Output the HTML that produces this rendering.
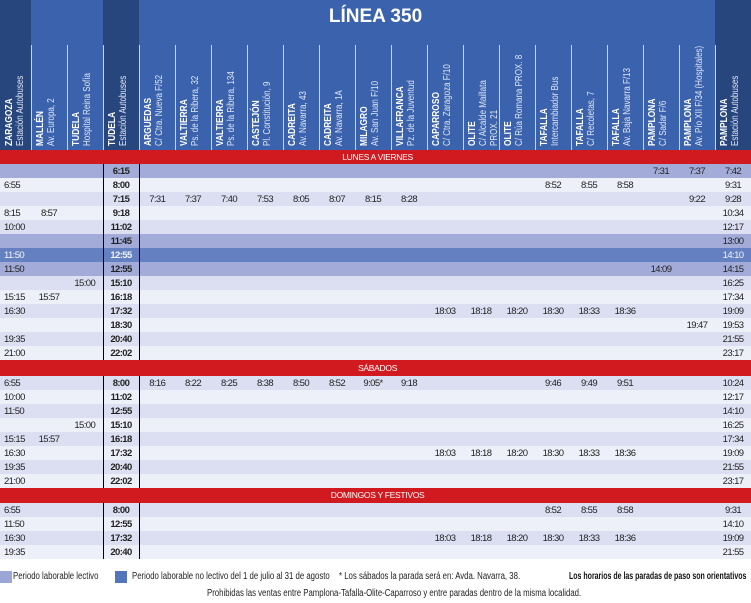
<!DOCTYPE html>
<html><head><meta charset="utf-8"><style>
*{margin:0;padding:0;box-sizing:border-box}
body{width:751px;height:603px;background:#fff;position:relative;overflow:hidden;font-family:"Liberation Sans",sans-serif}
#hdr{position:absolute;left:0;top:0;width:751px;height:150px;background:#3a62ad}
.dk{position:absolute;top:0;height:150px;background:#27467e}
.sep{position:absolute;top:45px;height:105px;width:1px;background:#c9d3ea}
.t{position:absolute;top:6px;left:0;width:751px;text-align:center;color:#fff;font-weight:bold;font-size:19px}
.lab{position:absolute;top:146px;height:106px;width:36px;writing-mode:vertical-rl;transform-origin:center top;transform:rotate(180deg) scaleY(.8);color:#dfe5f3;font-size:10px;line-height:11px;padding-right:3px;white-space:nowrap}
.lab b{color:#fff;font-size:10.5px}
table{position:absolute;left:0;top:150px;border-collapse:collapse;table-layout:fixed;width:751px;font-size:9.5px;letter-spacing:-.6px;color:#222}
td{height:14px;text-align:center;padding:0;white-space:nowrap;line-height:13px}
td:first-child{text-align:left;padding-left:4px}
tr.r td{background:#d01a1f;color:#fff;font-size:8.5px;letter-spacing:-.3px;text-align:center}
tr.m td{background:#a3acd9}
tr.l td{background:#eef0f9}
tr.d td{background:#dcdff1}
tr.k td{background:#6580c0;color:#f2f4fb}
tr:not(.r) td:nth-child(4){border-left:1px solid #000;border-right:1px solid #000;font-weight:bold}
.leg{position:absolute;font-size:10px;color:#222;white-space:nowrap;transform-origin:left top;transform:scaleX(.78)}
.sw{position:absolute;top:571px;width:12px;height:12px}
</style></head><body>
<div id="hdr">
<div class="dk" style="left:0;width:31px"></div>
<div class="dk" style="left:103px;width:36px"></div>
<div class="dk" style="left:715px;width:36px"></div>
<div class="t">LÍNEA 350</div>
<div class="sep" style="left:31px"></div><div class="sep" style="left:67px"></div><div class="sep" style="left:103px"></div><div class="sep" style="left:139px"></div><div class="sep" style="left:175px"></div><div class="sep" style="left:211px"></div><div class="sep" style="left:247px"></div><div class="sep" style="left:283px"></div><div class="sep" style="left:319px"></div><div class="sep" style="left:355px"></div><div class="sep" style="left:391px"></div><div class="sep" style="left:427px"></div><div class="sep" style="left:463px"></div><div class="sep" style="left:499px"></div><div class="sep" style="left:535px"></div><div class="sep" style="left:571px"></div><div class="sep" style="left:607px"></div><div class="sep" style="left:643px"></div><div class="sep" style="left:679px"></div><div class="sep" style="left:715px"></div>
<div class="lab" style="left:0;width:31px"><b>ZARAGOZA</b><br>Estación Autobuses</div>
<div class="lab" style="left:31px"><b>MALLÉN</b><br>Av. Europa, 2</div>
<div class="lab" style="left:67px"><b>TUDELA</b><br>Hospital Reina Sofía</div>
<div class="lab" style="left:103px"><b>TUDELA</b><br>Estación Autobuses</div>
<div class="lab" style="left:139px"><b>ARGUEDAS</b><br>C/ Ctra. Nueva F/52</div>
<div class="lab" style="left:175px"><b>VALTIERRA</b><br>Ps. de la Ribera, 32</div>
<div class="lab" style="left:211px"><b>VALTIERRA</b><br>Ps. de la Ribera, 134</div>
<div class="lab" style="left:247px"><b>CASTEJÓN</b><br>Pl. Constitución, 9</div>
<div class="lab" style="left:283px"><b>CADREITA</b><br>Av. Navarra, 43</div>
<div class="lab" style="left:319px"><b>CADREITA</b><br>Av. Navarra, 1A</div>
<div class="lab" style="left:355px"><b>MILAGRO</b><br>Av. San Juan F/10</div>
<div class="lab" style="left:391px"><b>VILLAFRANCA</b><br>Pz. de la Juventud</div>
<div class="lab" style="left:427px"><b>CAPARROSO</b><br>C/ Ctra. Zaragoza F/10</div>
<div class="lab" style="left:463px"><b>OLITE</b><br>C/ Alcalde Maillata<br>PROX. 21</div>
<div class="lab" style="left:499px"><b>OLITE</b><br>C/ Rúa Romana PROX. 8</div>
<div class="lab" style="left:535px"><b>TAFALLA</b><br>Intercambiador Bus</div>
<div class="lab" style="left:571px"><b>TAFALLA</b><br>C/ Recoletas, 7</div>
<div class="lab" style="left:607px"><b>TAFALLA</b><br>Av. Baja Navarra F/13</div>
<div class="lab" style="left:643px"><b>PAMPLONA</b><br>C/ Sadar F/6</div>
<div class="lab" style="left:679px"><b>PAMPLONA</b><br>Av. Pío XII F/34 (Hospitales)</div>
<div class="lab" style="left:715px"><b>PAMPLONA</b><br>Estación Autobuses</div>
</div>
<table>
<colgroup><col style="width:31px"><col span="19" style="width:36px"><col style="width:36px"></colgroup>
<tr class="r"><td colspan="21">LUNES A VIERNES</td></tr>
<tr class="m"><td></td><td></td><td></td><td>6:15</td><td></td><td></td><td></td><td></td><td></td><td></td><td></td><td></td><td></td><td></td><td></td><td></td><td></td><td></td><td>7:31</td><td>7:37</td><td>7:42</td></tr>
<tr class="l"><td>6:55</td><td></td><td></td><td>8:00</td><td></td><td></td><td></td><td></td><td></td><td></td><td></td><td></td><td></td><td></td><td></td><td>8:52</td><td>8:55</td><td>8:58</td><td></td><td></td><td>9:31</td></tr>
<tr class="d"><td></td><td></td><td></td><td>7:15</td><td>7:31</td><td>7:37</td><td>7:40</td><td>7:53</td><td>8:05</td><td>8:07</td><td>8:15</td><td>8:28</td><td></td><td></td><td></td><td></td><td></td><td></td><td></td><td>9:22</td><td>9:28</td></tr>
<tr class="l"><td>8:15</td><td>8:57</td><td></td><td>9:18</td><td></td><td></td><td></td><td></td><td></td><td></td><td></td><td></td><td></td><td></td><td></td><td></td><td></td><td></td><td></td><td></td><td>10:34</td></tr>
<tr class="d"><td>10:00</td><td></td><td></td><td>11:02</td><td></td><td></td><td></td><td></td><td></td><td></td><td></td><td></td><td></td><td></td><td></td><td></td><td></td><td></td><td></td><td></td><td>12:17</td></tr>
<tr class="m"><td></td><td></td><td></td><td>11:45</td><td></td><td></td><td></td><td></td><td></td><td></td><td></td><td></td><td></td><td></td><td></td><td></td><td></td><td></td><td></td><td></td><td>13:00</td></tr>
<tr class="k"><td>11:50</td><td></td><td></td><td>12:55</td><td></td><td></td><td></td><td></td><td></td><td></td><td></td><td></td><td></td><td></td><td></td><td></td><td></td><td></td><td></td><td></td><td>14:10</td></tr>
<tr class="m"><td>11:50</td><td></td><td></td><td>12:55</td><td></td><td></td><td></td><td></td><td></td><td></td><td></td><td></td><td></td><td></td><td></td><td></td><td></td><td></td><td>14:09</td><td></td><td>14:15</td></tr>
<tr class="d"><td></td><td></td><td>15:00</td><td>15:10</td><td></td><td></td><td></td><td></td><td></td><td></td><td></td><td></td><td></td><td></td><td></td><td></td><td></td><td></td><td></td><td></td><td>16:25</td></tr>
<tr class="l"><td>15:15</td><td>15:57</td><td></td><td>16:18</td><td></td><td></td><td></td><td></td><td></td><td></td><td></td><td></td><td></td><td></td><td></td><td></td><td></td><td></td><td></td><td></td><td>17:34</td></tr>
<tr class="d"><td>16:30</td><td></td><td></td><td>17:32</td><td></td><td></td><td></td><td></td><td></td><td></td><td></td><td></td><td>18:03</td><td>18:18</td><td>18:20</td><td>18:30</td><td>18:33</td><td>18:36</td><td></td><td></td><td>19:09</td></tr>
<tr class="l"><td></td><td></td><td></td><td>18:30</td><td></td><td></td><td></td><td></td><td></td><td></td><td></td><td></td><td></td><td></td><td></td><td></td><td></td><td></td><td></td><td>19:47</td><td>19:53</td></tr>
<tr class="d"><td>19:35</td><td></td><td></td><td>20:40</td><td></td><td></td><td></td><td></td><td></td><td></td><td></td><td></td><td></td><td></td><td></td><td></td><td></td><td></td><td></td><td></td><td>21:55</td></tr>
<tr class="l"><td>21:00</td><td></td><td></td><td>22:02</td><td></td><td></td><td></td><td></td><td></td><td></td><td></td><td></td><td></td><td></td><td></td><td></td><td></td><td></td><td></td><td></td><td>23:17</td></tr>
<tr class="r"><td colspan="21" style="height:16px">SÁBADOS</td></tr>
<tr class="d"><td>6:55</td><td></td><td></td><td>8:00</td><td>8:16</td><td>8:22</td><td>8:25</td><td>8:38</td><td>8:50</td><td>8:52</td><td>9:05*</td><td>9:18</td><td></td><td></td><td></td><td>9:46</td><td>9:49</td><td>9:51</td><td></td><td></td><td>10:24</td></tr>
<tr class="l"><td>10:00</td><td></td><td></td><td>11:02</td><td></td><td></td><td></td><td></td><td></td><td></td><td></td><td></td><td></td><td></td><td></td><td></td><td></td><td></td><td></td><td></td><td>12:17</td></tr>
<tr class="d"><td>11:50</td><td></td><td></td><td>12:55</td><td></td><td></td><td></td><td></td><td></td><td></td><td></td><td></td><td></td><td></td><td></td><td></td><td></td><td></td><td></td><td></td><td>14:10</td></tr>
<tr class="l"><td></td><td></td><td>15:00</td><td>15:10</td><td></td><td></td><td></td><td></td><td></td><td></td><td></td><td></td><td></td><td></td><td></td><td></td><td></td><td></td><td></td><td></td><td>16:25</td></tr>
<tr class="d"><td>15:15</td><td>15:57</td><td></td><td>16:18</td><td></td><td></td><td></td><td></td><td></td><td></td><td></td><td></td><td></td><td></td><td></td><td></td><td></td><td></td><td></td><td></td><td>17:34</td></tr>
<tr class="l"><td>16:30</td><td></td><td></td><td>17:32</td><td></td><td></td><td></td><td></td><td></td><td></td><td></td><td></td><td>18:03</td><td>18:18</td><td>18:20</td><td>18:30</td><td>18:33</td><td>18:36</td><td></td><td></td><td>19:09</td></tr>
<tr class="d"><td>19:35</td><td></td><td></td><td>20:40</td><td></td><td></td><td></td><td></td><td></td><td></td><td></td><td></td><td></td><td></td><td></td><td></td><td></td><td></td><td></td><td></td><td>21:55</td></tr>
<tr class="l"><td>21:00</td><td></td><td></td><td>22:02</td><td></td><td></td><td></td><td></td><td></td><td></td><td></td><td></td><td></td><td></td><td></td><td></td><td></td><td></td><td></td><td></td><td>23:17</td></tr>
<tr class="r"><td colspan="21" style="height:15px">DOMINGOS Y FESTIVOS</td></tr>
<tr class="d"><td>6:55</td><td></td><td></td><td>8:00</td><td></td><td></td><td></td><td></td><td></td><td></td><td></td><td></td><td></td><td></td><td></td><td>8:52</td><td>8:55</td><td>8:58</td><td></td><td></td><td>9:31</td></tr>
<tr class="l"><td>11:50</td><td></td><td></td><td>12:55</td><td></td><td></td><td></td><td></td><td></td><td></td><td></td><td></td><td></td><td></td><td></td><td></td><td></td><td></td><td></td><td></td><td>14:10</td></tr>
<tr class="d"><td>16:30</td><td></td><td></td><td>17:32</td><td></td><td></td><td></td><td></td><td></td><td></td><td></td><td></td><td>18:03</td><td>18:18</td><td>18:20</td><td>18:30</td><td>18:33</td><td>18:36</td><td></td><td></td><td>19:09</td></tr>
<tr class="l"><td>19:35</td><td></td><td></td><td>20:40</td><td></td><td></td><td></td><td></td><td></td><td></td><td></td><td></td><td></td><td></td><td></td><td></td><td></td><td></td><td></td><td></td><td>21:55</td></tr>
</table>
<div class="sw" style="left:0;background:#9aa6d6"></div>
<div class="leg" style="left:13px;top:571px">Periodo laborable lectivo</div>
<div class="sw" style="left:115px;background:#5474bb"></div>
<div class="leg" style="left:132px;top:571px">Periodo laborable no lectivo del 1 de julio al 31 de agosto</div>
<div class="leg" style="left:339px;top:571px">* Los sábados la parada será en: Avda. Navarra, 38.</div>
<div class="leg" style="left:569px;top:571px;font-weight:bold;color:#111;transform:scaleX(.7)">Los horarios de las paradas de paso son orientativos</div>
<div class="leg" style="left:207px;top:588px">Prohibidas las ventas entre Pamplona-Tafalla-Olite-Caparroso y entre paradas dentro de la misma localidad.</div>
</body></html>
